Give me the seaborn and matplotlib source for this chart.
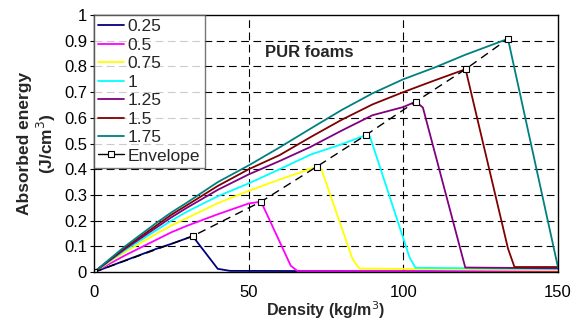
import numpy as np
import pandas as pd
import seaborn as sns
import matplotlib.pyplot as plt

# curves: density (kg/m3) and absorbed energy (J/cm3)
x_025 = [0, 10, 20, 25, 31.9, 40, 44, 150]
y_025 = [0, 0.045, 0.09, 0.11, 0.14, 0.013, 0.005, 0.002]

x_05 = [0, 10, 20, 25, 30, 40, 50, 54, 63.6, 65.8, 150]
y_05 = [0, 0.065, 0.125, 0.155, 0.18, 0.225, 0.267, 0.274, 0.025, 0.004, 0.003]

x_075 = [0, 10, 20, 25, 30, 40, 50, 60, 72, 73.5, 83.6, 85.8, 150]
y_075 = [0, 0.078, 0.148, 0.181, 0.21, 0.268, 0.316, 0.36, 0.41, 0.40, 0.05, 0.014, 0.008]

x_1 = [0, 10, 20, 25, 30, 40, 50, 60, 70, 80, 87.9, 89.2, 102, 103.9, 150]
y_1 = [0, 0.085, 0.162, 0.20, 0.235, 0.295, 0.345, 0.40, 0.457, 0.497, 0.533, 0.527, 0.057, 0.017, 0.012]

x_125 = [0, 10, 20, 25, 30, 40, 50, 60, 70, 80, 90, 100, 104, 106.3, 120, 150]
y_125 = [0, 0.09, 0.172, 0.213, 0.25, 0.32, 0.38, 0.432, 0.487, 0.55, 0.61, 0.642, 0.663, 0.64, 0.018, 0.015]

x_15 = [0, 10, 20, 25, 30, 40, 50, 60, 70, 80, 90, 100, 110, 120.1, 133.8, 135.9, 150]
y_15 = [0, 0.095, 0.18, 0.223, 0.26, 0.335, 0.40, 0.455, 0.525, 0.592, 0.652, 0.70, 0.745, 0.789, 0.092, 0.02, 0.02]

x_175 = [0, 10, 20, 25, 30, 40, 50, 60, 70, 80, 90, 100, 110, 120, 133.8, 150]
y_175 = [0, 0.10, 0.19, 0.232, 0.27, 0.35, 0.415, 0.485, 0.558, 0.63, 0.695, 0.75, 0.795, 0.845, 0.907, 0.017]

env_x = [0, 31.9, 54, 72, 87.9, 104, 120.1, 133.8]
env_y = [0, 0.14, 0.274, 0.41, 0.533, 0.663, 0.789, 0.907]

labels = ['0.25', '0.5', '0.75', '1', '1.25', '1.5', '1.75']
colors = ['#000080', '#FF00FF', '#FFFF00', '#00FFFF', '#800080', '#800000', '#008080']
curves = [(x_025, y_025), (x_05, y_05), (x_075, y_075), (x_1, y_1),
          (x_125, y_125), (x_15, y_15), (x_175, y_175)]

sns.set_style('white')
plt.rcParams['font.family'] = ['Liberation Sans', 'DejaVu Sans']

fig = plt.figure(figsize=(5.73, 3.24), dpi=100)
ax = fig.add_axes([0.164, 0.16, 0.81, 0.794])

# grid first so curves sit on top
for g in np.arange(0.1, 0.95, 0.1):
    ax.axhline(g, color='black', lw=0.8, dashes=(7, 4), zorder=0)
for g in [50, 100]:
    ax.axvline(g, color='black', lw=0.8, dashes=(7, 4), zorder=0)

for (cx, cy), lab, col in zip(curves, labels, colors):
    sns.lineplot(x=cx, y=cy, color=col, label=lab, lw=1.3, sort=False,
                 estimator=None, ax=ax)

sns.lineplot(x=env_x, y=env_y, color='black', label='Envelope', lw=1.0,
             sort=False, estimator=None, marker='s', markersize=5,
             markerfacecolor='white', markeredgecolor='black',
             markeredgewidth=0.8, ax=ax)
ax.lines[-1].set_dashes((6, 4))

ax.set_xlim(0, 150)
ax.set_ylim(0, 1)
ax.set_xticks([0, 50, 100, 150])
ax.set_yticks(np.round(np.arange(0, 1.01, 0.1), 1))
ax.set_yticklabels(['0', '0.1', '0.2', '0.3', '0.4', '0.5', '0.6', '0.7', '0.8', '0.9', '1'])
ax.tick_params(axis='both', labelsize=12, colors='black')
ax.tick_params(axis='y', direction='out', length=3, width=0.8, left=True, pad=2)
ax.tick_params(axis='x', direction='out', length=0, pad=9)
for s in ax.spines.values():
    s.set_color('black')
    s.set_linewidth(1.0)

ax.set_xlabel('Density (kg/m$^3$)', fontsize=11.5, fontweight='bold', labelpad=0)
ax.set_ylabel('Absorbed energy\n(J/cm$^3$)', fontsize=12.5, fontweight='bold', labelpad=4)
ax.text(55.3, 0.852, 'PUR foams', fontsize=12, fontweight='bold', va='center')

leg = ax.legend(loc='upper left', fontsize=12.5, frameon=True, fancybox=False,
                borderaxespad=0, borderpad=0.25, labelspacing=0.19,
                handlelength=1.5, handletextpad=0.2)
leg.get_frame().set_edgecolor('#555555')
leg.get_frame().set_linewidth(1.0)
leg.get_lines()[-1].set_linestyle('-')

fig.savefig('out.png', dpi=100)
